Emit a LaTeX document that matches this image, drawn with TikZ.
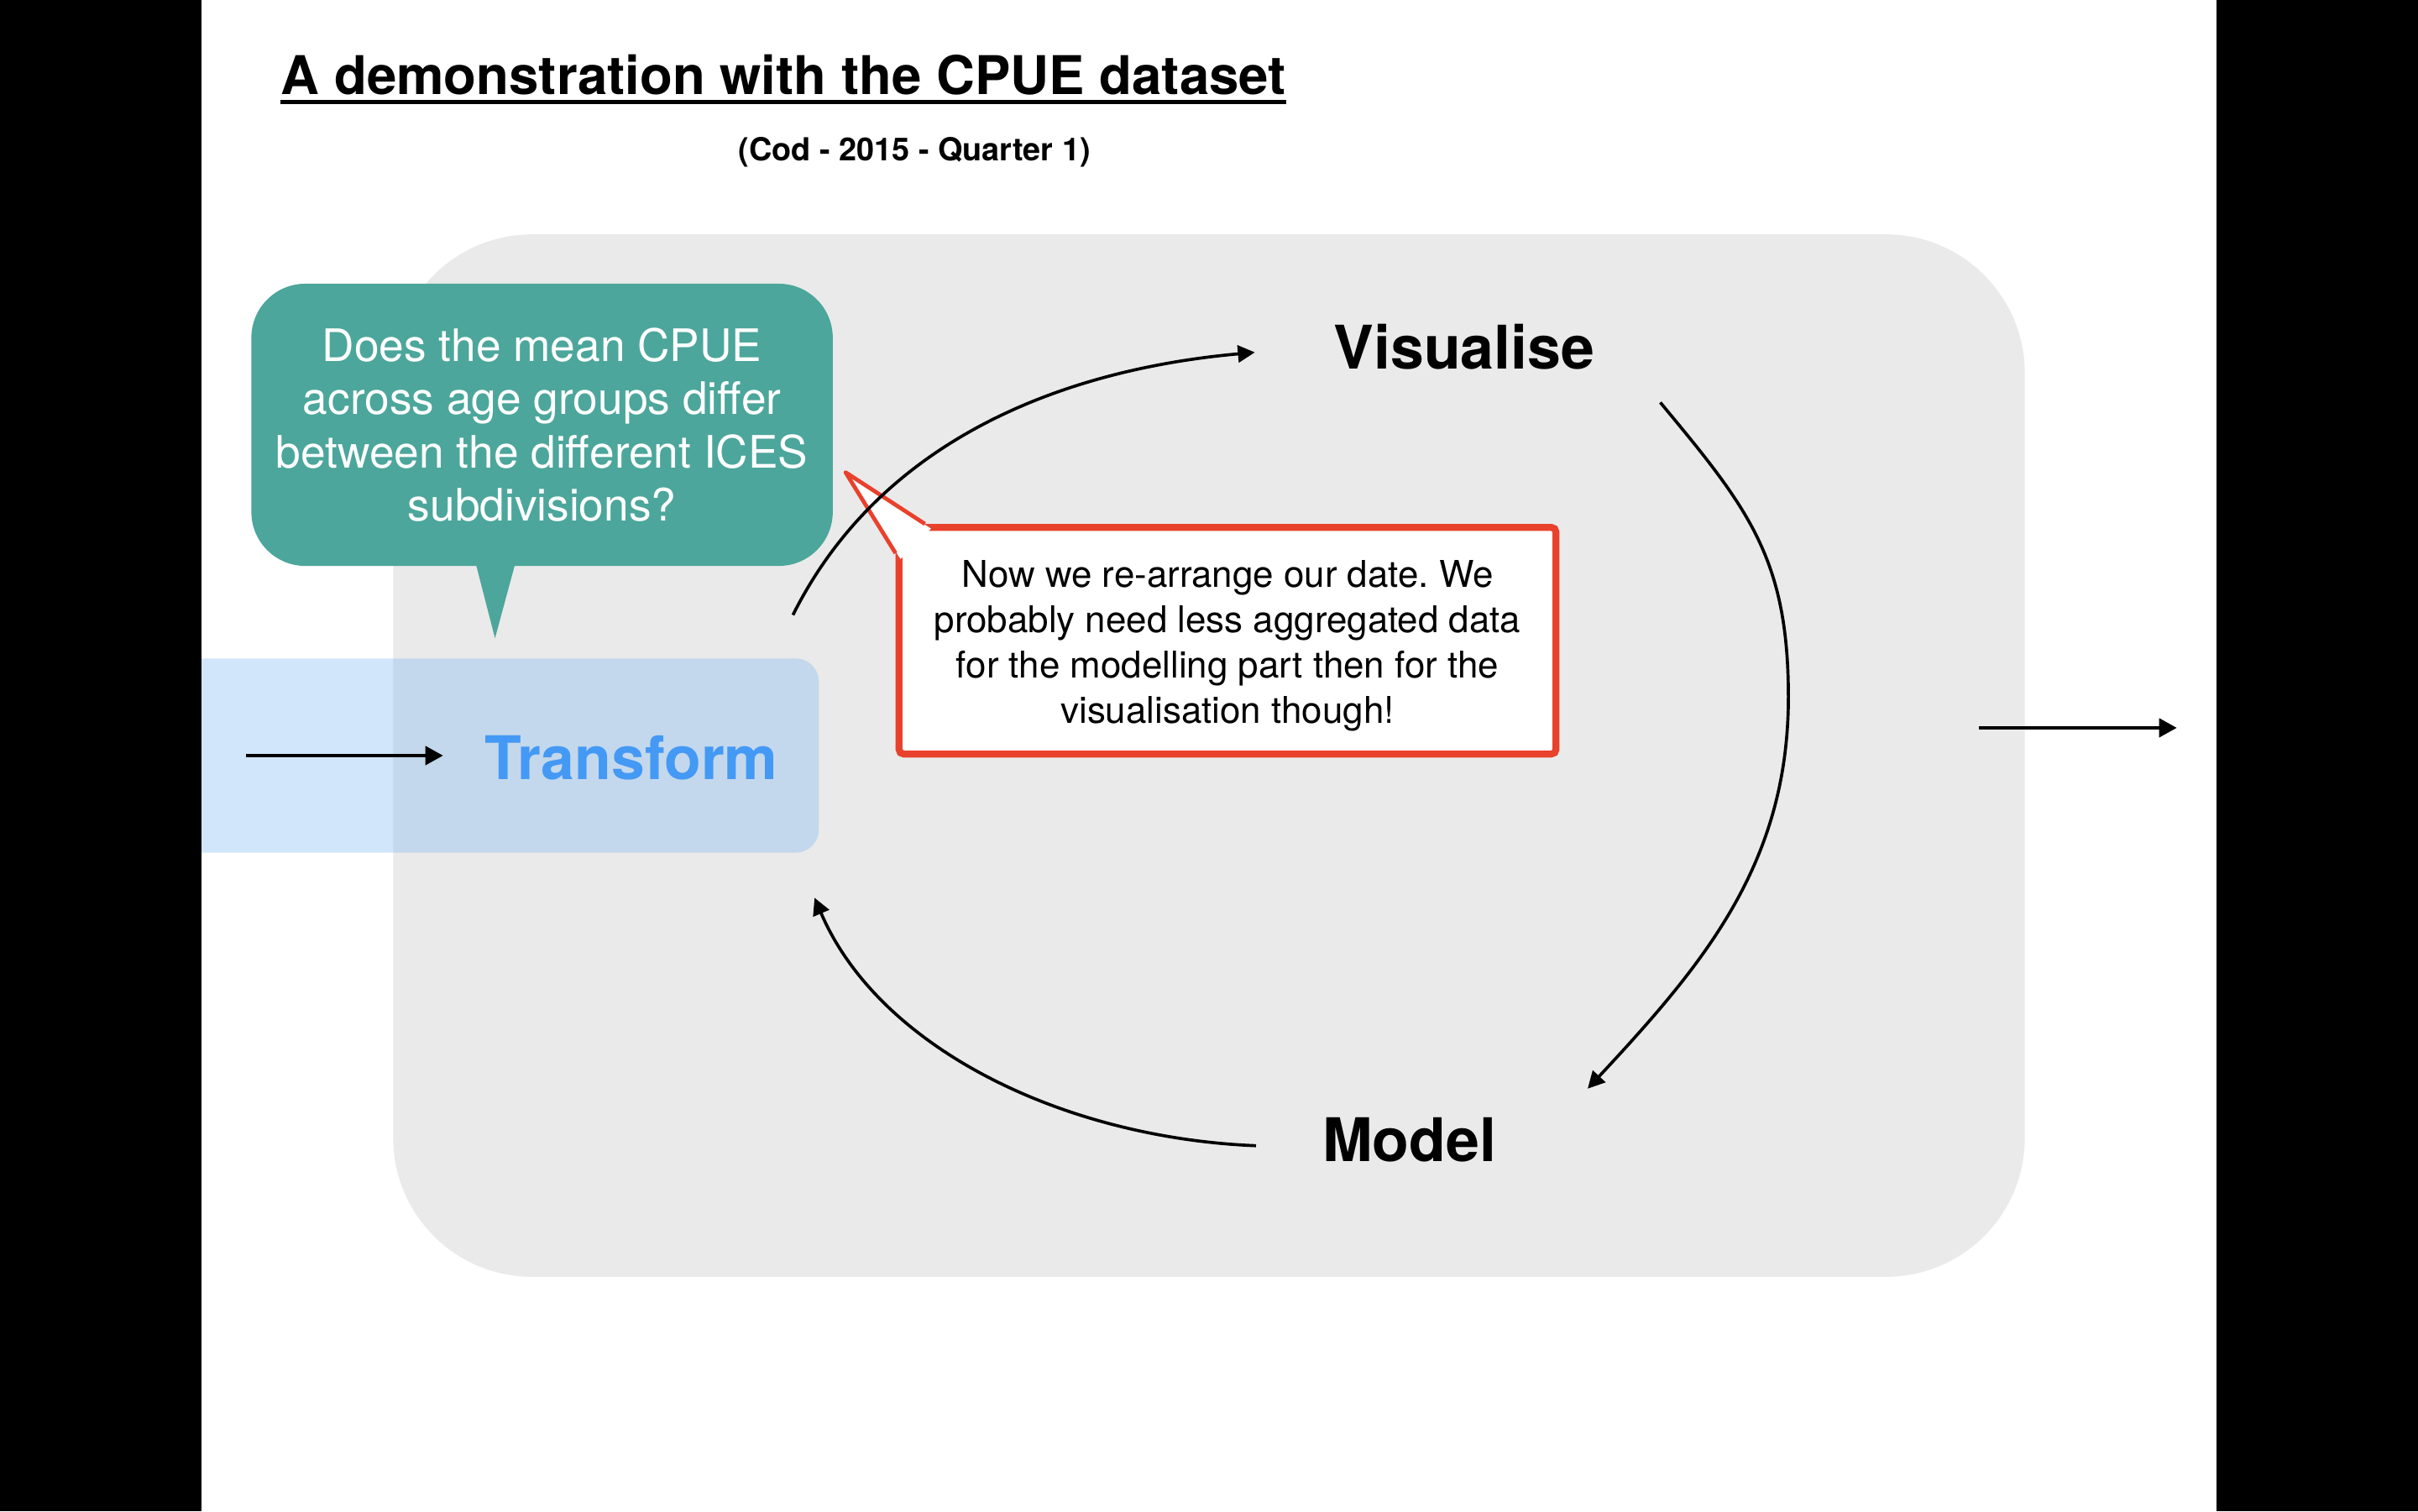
\documentclass[tikz,border=0pt]{standalone}
\usepackage{fontspec}
\setmainfont{TeX Gyre Heros}
\usetikzlibrary{arrows.meta,calc}
\definecolor{panelgray}{RGB}{234,234,234}
\definecolor{bubbleteal}{RGB}{76,166,155}
\definecolor{notered}{RGB}{232,65,44}
\definecolor{trblue}{RGB}{117,180,243}
\definecolor{trtextblue}{RGB}{68,153,245}
\frenchspacing
\begin{document}
\begin{tikzpicture}[x=1pt,y=-1pt,
  lab/.style={inner sep=0pt, font=\fontsize{39}{44}\selectfont\bfseries},
  flowline/.style={draw=black, line width=2pt, -{Triangle[length=11pt,width=11pt]}},
  straightarrow/.style={draw=black, line width=2.3pt, -{Triangle[length=11.5pt,width=12pt]}}
]
\useasboundingbox (0,0) rectangle (1568,980);
\fill[white] (0,0) rectangle (1568,980);

% grey panel
\node[fill=panelgray, rounded corners=90pt, minimum width=1058pt, minimum height=676pt, inner sep=0pt] (panel) at (784,490) {};

% transform box
\node[fill=trblue, fill opacity=0.33, rounded corners=15pt, minimum width=421pt, minimum height=126pt, inner sep=0pt] (trbox) at (320.5,490) {};
\node[lab, text=trtextblue] (trtext) at (409.5,491.2) {Transform};

% teal question bubble
\node[fill=bubbleteal, rounded corners=35pt, minimum width=377pt, minimum height=183pt, inner sep=0pt,
      text=white, align=center, font=\fontsize{29}{34.5}\selectfont] (q) at (351.5,275.5)
  {Does the mean CPUE\\across age groups differ\\between the different ICES\\subdivisions?};
\fill[bubbleteal] ([xshift=-42.8pt,yshift=1pt]q.south) -- ([xshift=-17.6pt,yshift=1pt]q.south) -- ([xshift=-30.5pt,yshift=-46.7pt]q.south) -- cycle;

% red note
\node[fill=white, draw=notered, line width=4.5pt, rounded corners=3pt, minimum width=426pt, minimum height=147pt, inner sep=0pt,
      align=center, font=\fontsize{23.9}{29.3}\selectfont] (note) at (796,415.5)
  {\rule{0pt}{5pt}\\[-10pt]Now we re-arrange our date. We\\probably need less aggregated data\\for the modelling part then for the\\visualisation though!};
\fill[white] ([shift={(23,3.1)}]note.north west) -- ([shift={(-32.5,-33.5)}]note.north west) -- ([shift={(3.2,22.8)}]note.north west) -- cycle;
\draw[notered, line width=2.6pt, line join=round] ([shift={(19,0)}]note.north west) -- ([shift={(-32.5,-33.5)}]note.north west) -- ([shift={(0,19)}]note.north west);

% labels
\node[lab] (vis) at (949.5,225) {Visualise};
\node[lab] (mod) at (914,739) {Model};

% title
\node[anchor=base west, inner sep=0pt, font=\fontsize{34.6}{40}\selectfont\bfseries] (title) at (182,61) {A demonstration with the CPUE dataset};
\draw[line width=2.5pt] ([yshift=-5pt]title.base west) -- ([yshift=-5pt]title.base east);
\node[anchor=base, inner sep=0pt, font=\fontsize{20.6}{24}\selectfont\bfseries] (sub) at (593,104) {(Cod - 2015 - Quarter 1)};

% cycle connectors
\draw[flowline] ([shift={(-17,-28)}]trbox.north east) .. controls (570,287) and (686,240) .. ([shift={(-51,3.5)}]vis.west);
\draw[flowline] ([shift={(42.4,36)}]vis.east) .. controls (1133.5,329.4) and (1159.7,362) .. (1159.7,452)
   .. controls (1159.7,560) and (1105,625) .. ([shift={(59,-33)}]mod.east);
\draw[flowline] ([shift={(-43,4)}]mod.west) .. controls (690,738) and (570,680) .. ([shift={(-3,29)}]trbox.south east);

% in / out arrows
\coordinate (inStart) at (159.4,490);
\draw[straightarrow] (inStart) -- ([shift={(-27,-1.2)}]trtext.west);
\coordinate (outEnd) at (1411.6,472);
\draw[straightarrow] ([shift={(-30,-18)}]panel.east) -- (outEnd);

% black side bars
\fill[black] (0,0) rectangle (130.5,980);
\fill[black] (1437.4,0) rectangle (1568,980);
\end{tikzpicture}
\end{document}
